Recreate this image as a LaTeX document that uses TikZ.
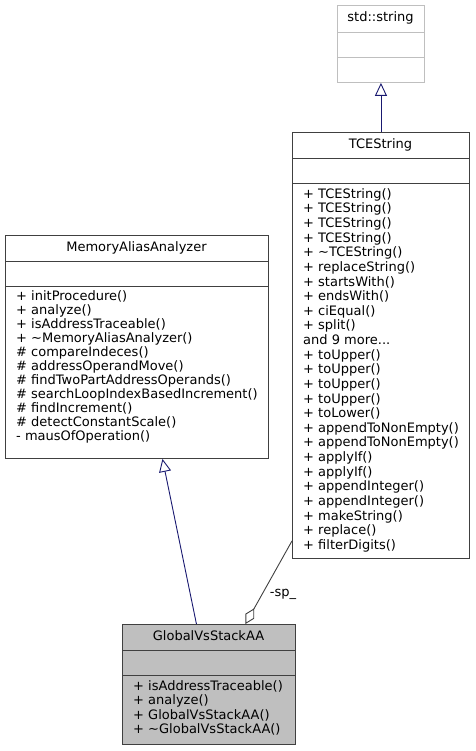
\documentclass[tikz,border=0pt]{standalone}
\usepackage{fontspec}
\setmainfont{DejaVu Sans}
\usepackage{xcolor}
\usetikzlibrary{arrows.meta}
\definecolor{edgeblue}{HTML}{191970}
\definecolor{aggrgray}{HTML}{404040}
\definecolor{boxgray}{HTML}{BFBFBF}
\newcommand{\moredots}{...}

\begin{document}
\begin{tikzpicture}[x=1pt,y=-1pt,
    classbox/.style={draw=aggrgray, line width=0.9pt, inner sep=0, anchor=north west},
    divider/.style={draw=aggrgray, line width=0.9pt},
    member/.style={anchor=west, inner sep=0, text height=9.5pt, text depth=3pt,
      font=\fontsize{13}{14}\selectfont},
    title/.style={inner sep=0, text height=9.5pt, text depth=3pt,
      font=\fontsize{13}{14}\selectfont},
    inherit/.style={draw=edgeblue, line width=0.9pt,
      -{Triangle[open,length=13pt,width=12pt]}},
    aggr/.style={draw=aggrgray, line width=0.9pt,
      {Diamond[open,length=18pt,width=10pt]}-}]

  \useasboundingbox (0,0) rectangle (475,751);

  % std::string
  \node[classbox, draw=boxgray, minimum width=87, minimum height=77] (str) at (337,5) {};
  \draw[divider, draw=boxgray] (337,32) -- (424,32) (337,57) -- (424,57);
  \node[title] (strname) at (380.5,18) {std::string};

  % TCEString
  \node[classbox, minimum width=177, minimum height=426] (tce) at (292,132) {};
  \draw[divider] (292,158) -- (469,158) (292,183) -- (469,183);
  \node[title] (tcename) at (380.5,145) {TCEString};
  \foreach \m [count=\i from 0] in {+ TCEString(), + TCEString(), + TCEString(),
      + TCEString(), + \textasciitilde TCEString(), + replaceString(), + startsWith(),
      + endsWith(), + ciEqual(), + split(), and 9 more\moredots, + toUpper(), + toUpper(),
      + toUpper(), + toUpper(), + toLower(), + appendToNonEmpty(), + appendToNonEmpty(),
      + applyIf(), + applyIf(), + appendInteger(), + appendInteger(), + makeString(),
      + replace(), + filterDigits()}
    \node[member] (tcem\i) at (303,{195+14.63*\i}) {\m};

  % MemoryAliasAnalyzer
  \node[classbox, minimum width=263, minimum height=223] (maa) at (5,235) {};
  \draw[divider] (5,261) -- (268,261) (5,286) -- (268,286);
  \node[title] (maaname) at (136.5,248) {MemoryAliasAnalyzer};
  \foreach \m [count=\i from 0] in {+ initProcedure(), + analyze(), + isAddressTraceable(),
      + \textasciitilde MemoryAliasAnalyzer(), \# compareIndeces(), \# addressOperandMove(),
      \# findTwoPartAddressOperands(), \# searchLoopIndexBasedIncrement(),
      \# findIncrement(), \# detectConstantScale(), - mausOfOperation()}
    \node[member] (maam\i) at (16,{297+14*\i}) {\m};

  % GlobalVsStackAA
  \node[classbox, fill=boxgray, minimum width=173, minimum height=120] (glob) at (122,624) {};
  \draw[divider] (122,650) -- (295,650) (122,675) -- (295,675);
  \node[title] (globname) at (208.5,637) {GlobalVsStackAA};
  \foreach \m [count=\i from 0] in {+ isAddressTraceable(), + analyze(),
      + GlobalVsStackAA(), + \textasciitilde GlobalVsStackAA()}
    \node[member] (globm\i) at (133,{687+14.5*\i}) {\m};

  % Relations
  \draw[inherit] (tce.north) -- (str.south);
  \draw[inherit] ([xshift=-12.5pt]glob.north) -- ([xshift=25.5pt]maa.south);
  \draw[aggr] ([xshift=36.5pt]glob.north) -- ([yshift=18pt]tce.south west);
  \node[title] (splabel) at (283,593) {-sp\_};
\end{tikzpicture}
\end{document}
